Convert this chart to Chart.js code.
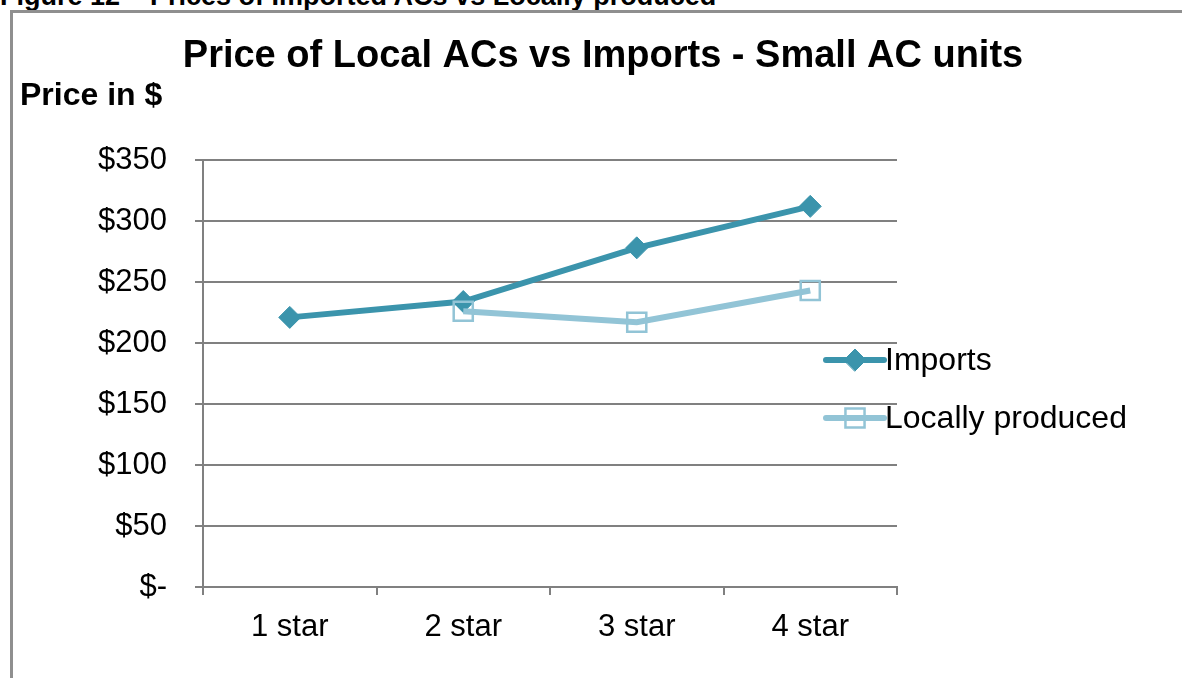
<!DOCTYPE html>
<html>
<head>
<meta charset="utf-8">
<title>Price of Local ACs vs Imports</title>
<script src="https://cdn.jsdelivr.net/npm/chart.js@4.4.0/dist/chart.umd.min.js"></script>
<style>
  html, body { margin: 0; padding: 0; background: #fff; overflow: hidden; }
  #page { position: relative; width: 1182px; height: 678px; overflow: hidden; }
  #caption {
    position: absolute; left: 0; top: -17px;
    font: bold 27px 'Liberation Sans', Arial, sans-serif; line-height: 27px;
    white-space: nowrap; color: #000;
  }
  #frame {
    position: absolute; left: 10px; top: 10px; width: 1200px; height: 700px;
    border-top: 3px solid #8f8f8f; border-left: 3px solid #8f8f8f;
  }
  #chartBox { position: absolute; left: 0; top: 0; width: 1182px; height: 678px; }
</style>
</head>
<body>
<div id="page">
  <div id="caption">Figure 12 – Prices of Imported ACs vs Locally produced</div>
  <div id="frame"></div>
  <div id="chartBox"><canvas id="priceChart" width="1182" height="678"></canvas></div>
</div>
<script>
// Average retail price per star rating
const categories = ['1 star', '2 star', '3 star', '4 star'];
const importPrices = [221, 234, 278, 312];
const localPrices = [null, 226, 217, 243];

const chartTitle = 'Price of Local ACs vs Imports - Small AC units';
const axisTitle = 'Price in $';
const yMin = 0;
const yMax = 350;
const yStep = 50;

const FONT = "'Liberation Sans', Arial, sans-serif";
const GRID = '#808080';

// Title and the horizontal y-axis caption
const headings = {
    id: 'headings',
    afterDraw(chart) {
        const ctx = chart.ctx;
        ctx.save();
        ctx.fillStyle = '#000';
        ctx.textBaseline = 'alphabetic';
        ctx.font = 'bold 38px ' + FONT;
        ctx.textAlign = 'center';
        ctx.fillText(chartTitle, 603, 67);
        ctx.font = 'bold 32px ' + FONT;
        ctx.textAlign = 'left';
        ctx.fillText(axisTitle, 20, 105);
        ctx.restore();
    }
};

// Legend drawn as line + marker samples, sitting over the right end of the plot
const sideLegend = {
    id: 'sideLegend',
    afterDatasetsDraw(chart) {
        const ctx = chart.ctx;
        const x0 = chart.chartArea.right - 71;
        chart.data.datasets.forEach((ds, i) => {
            const y = 360 + i * 58;
            ctx.save();
            ctx.strokeStyle = ds.borderColor;
            ctx.lineWidth = ds.borderWidth;
            ctx.lineCap = 'round';
            ctx.beginPath();
            ctx.moveTo(x0, y);
            ctx.lineTo(x0 + 58, y);
            ctx.stroke();

            ctx.fillStyle = ds.pointBackgroundColor;
            ctx.strokeStyle = ds.pointBorderColor;
            ctx.lineWidth = ds.pointBorderWidth;
            Chart.helpers.drawPoint(ctx, {
                pointStyle: ds.pointStyle,
                radius: ds.pointRadius,
                rotation: 0,
                borderWidth: ds.pointBorderWidth
            }, x0 + 29, y);

            ctx.fillStyle = '#000';
            ctx.font = '32px ' + FONT;
            ctx.textAlign = 'left';
            ctx.textBaseline = 'middle';
            ctx.fillText(ds.label, x0 + 59, y + 1);
            ctx.restore();
        });
    }
};

const ctx = document.getElementById('priceChart').getContext('2d');
new Chart(ctx, {
    type: 'line',
    data: {
        labels: categories,
        datasets: [
            {
                label: 'Imports',
                data: importPrices,
                borderColor: '#3b94ac',
                borderWidth: 6,
                pointStyle: 'rectRot',
                pointRadius: 11,
                pointBackgroundColor: '#3b94ac',
                pointBorderColor: '#3b94ac',
                pointBorderWidth: 1,
                tension: 0,
                order: 1
            },
            {
                label: 'Locally produced',
                data: localPrices,
                borderColor: '#92c4d6',
                borderWidth: 6,
                pointStyle: 'rect',
                pointRadius: 13.5,
                pointBackgroundColor: 'rgba(0,0,0,0)',
                pointBorderColor: '#92c4d6',
                pointBorderWidth: 2.5,
                tension: 0,
                spanGaps: false,
                order: 0
            }
        ]
    },
    options: {
        responsive: false,
        animation: false,
        layout: {
            padding: { top: 160, right: 285, left: 0, bottom: 0 }
        },
        plugins: {
            legend: { display: false },
            title: { display: false },
            tooltip: { enabled: false }
        },
        scales: {
            x: {
                type: 'category',
                offset: true,
                grid: {
                    offset: true,
                    drawOnChartArea: false,
                    tickLength: 8,
                    color: GRID,
                    lineWidth: 2
                },
                border: { color: GRID, width: 2 },
                ticks: {
                    color: '#000',
                    font: { size: 31, family: FONT },
                    padding: 14,
                    maxRotation: 0
                },
                afterFit(scale) { scale.height = 91; }
            },
            y: {
                min: yMin,
                max: yMax,
                grid: {
                    color: GRID,
                    lineWidth: 2,
                    tickLength: 8
                },
                border: { color: GRID, width: 2 },
                ticks: {
                    stepSize: yStep,
                    color: '#000',
                    font: { size: 31, family: FONT },
                    padding: 28,
                    callback: v => v === 0 ? '$-' : '$' + v
                },
                afterFit(scale) { scale.width = 203; }
            }
        }
    },
    plugins: [headings, sideLegend]
});
</script>
</body>
</html>
